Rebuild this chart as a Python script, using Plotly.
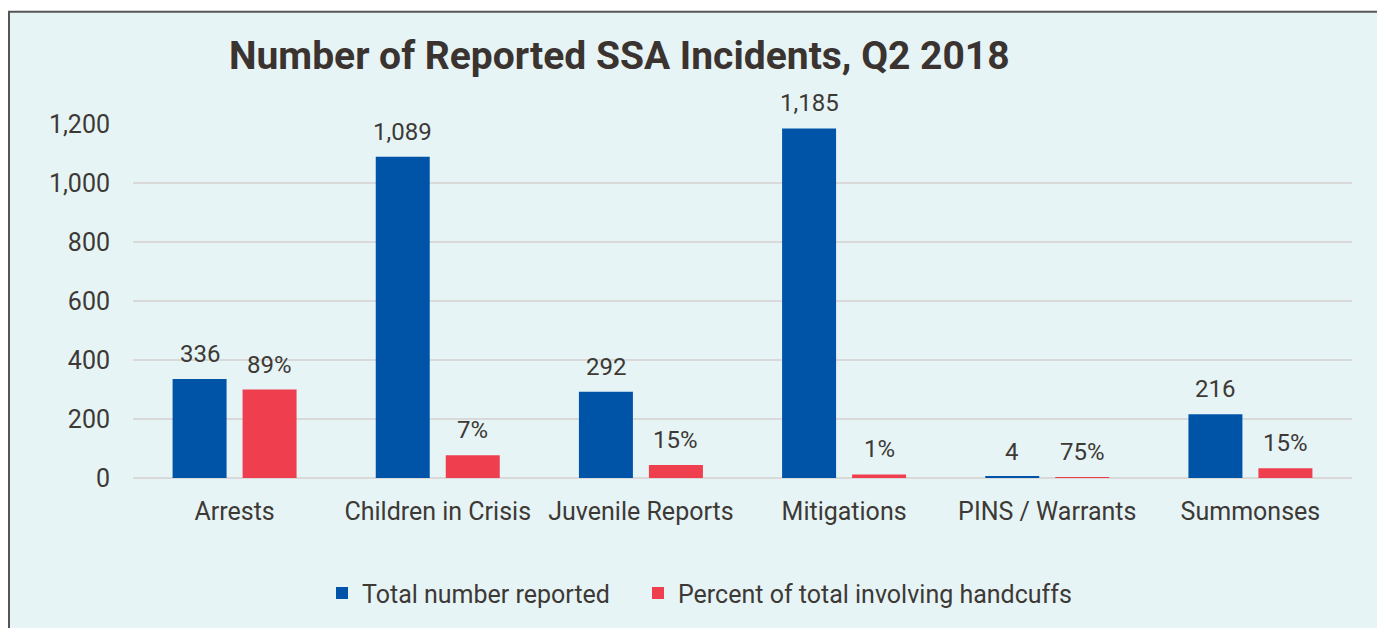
import plotly.graph_objects as go

categories = ["Arrests", "Children in Crisis", "Juvenile Reports", "Mitigations", "PINS / Warrants", "Summonses"]
total_reported = [336, 1089, 292, 1185, 4, 216]
handcuff_counts = [300, 77, 44, 12, 3, 33]
handcuff_pct_labels = ["89%", "7%", "15%", "1%", "75%", "15%"]
total_labels = ["336", "1,089", "292", "1,185", "4", "216"]
y_ticks = [0, 200, 400, 600, 800, 1000, 1200]
y_tick_labels = ["0", "200", "400", "600", "800", "1,000", "1,200"]

W, H = 1377, 628
L, R, T, B = 133, 25, 124, 148
pw, ph = W - L - R, H - T - B

def px_x(p):
    return (p - L) / pw

def px_y(p):
    return (H - B - p) / ph

text_color = "#3D3935"
font_family = "Roboto, Arial, sans-serif"

fig = go.Figure()
fig.add_trace(go.Bar(
    x=categories, y=total_reported, name="Total number reported",
    marker=dict(color="#0054A8", line=dict(width=0)), legend="legend",
))
fig.add_trace(go.Bar(
    x=categories, y=handcuff_counts, name="Percent of total involving handcuffs",
    marker=dict(color="#EF3F4E", line=dict(width=0)), legend="legend2",
))

# data labels above bars (offset to each bar of the group)
for cat, val, lab in zip(categories, total_reported, total_labels):
    fig.add_annotation(x=cat, y=val, xref="x", yref="y", text=lab, showarrow=False,
                       xshift=-35, yshift=25, xanchor="center", yanchor="middle",
                       font=dict(size=24, color=text_color, family=font_family))
for cat, val, lab in zip(categories, handcuff_counts, handcuff_pct_labels):
    fig.add_annotation(x=cat, y=val, xref="x", yref="y", text=lab, showarrow=False,
                       xshift=35, yshift=25, xanchor="center", yanchor="middle",
                       font=dict(size=24, color=text_color, family=font_family))

fig.add_shape(type="rect", xref="paper", yref="paper",
              x0=px_x(9), x1=px_x(1400), y0=px_y(640), y1=px_y(11),
              fillcolor="#E6F4F6", line=dict(color="#555555", width=2), layer="below")

fig.add_annotation(text="<b>Number of Reported SSA Incidents, Q2 2018</b>",
                   xref="paper", yref="paper", x=px_x(227), y=px_y(56),
                   xanchor="left", yanchor="middle", showarrow=False,
                   font=dict(size=39, color="#3A3330", family=font_family))

legend_style = dict(orientation="h", xanchor="left", y=px_y(596), yanchor="middle",
                    font=dict(size=25, color=text_color), bgcolor="rgba(0,0,0,0)",
                    itemwidth=30)

fig.update_layout(
    width=W, height=H,
    margin=dict(l=L, r=R, t=T, b=B, pad=0),
    paper_bgcolor="white", plot_bgcolor="rgba(0,0,0,0)",
    barmode="group", bargap=0.311, bargroupgap=0.2286,
    font=dict(family=font_family, color=text_color, size=25),
    showlegend=True,
    legend=dict(x=px_x(322), **legend_style),
    legend2=dict(x=px_x(638), **legend_style),
    xaxis=dict(showgrid=False, showline=False, ticks="", tickfont=dict(size=25, color=text_color),
               ticklabelstandoff=16),
    yaxis=dict(range=[0, 1200], tickvals=y_ticks, ticktext=y_tick_labels,
               showgrid=True, gridcolor="#D9D9D9", gridwidth=2,
               zeroline=True, zerolinecolor="#D9D9D9", zerolinewidth=2,
               showline=False, ticks="", tickfont=dict(size=25, color=text_color),
               ticklabelstandoff=22),
)

fig.write_html("out.html")
